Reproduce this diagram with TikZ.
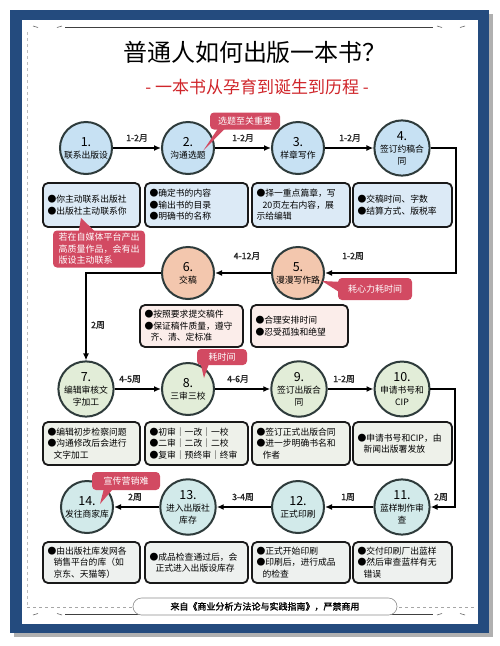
\documentclass[tikz,border=0pt]{standalone}
\usepackage{fontspec}
\setmainfont{Noto Sans CJK SC}
\newfontfamily\boldcjk[FakeBold=1.6]{Noto Sans CJK SC}
\usetikzlibrary{arrows.meta,calc}
\definecolor{frameblue}{HTML}{244B7E}
\definecolor{shadowgray}{HTML}{B0B0B0}
\definecolor{cblue}{HTML}{C7E1F3}
\definecolor{bblue}{HTML}{DCEAF6}
\definecolor{cpeach}{HTML}{F3C7AE}
\definecolor{bpink}{HTML}{FBEDEA}
\definecolor{cgreen}{HTML}{E2EDD8}
\definecolor{bgreen}{HTML}{EEF1EA}
\definecolor{ccyan}{HTML}{D2EAEA}
\definecolor{bgray}{HTML}{EEF1EF}
\definecolor{callred}{HTML}{D24A62}
\definecolor{subred}{HTML}{D0262B}
\definecolor{cedge}{HTML}{2E3B3B}
\tikzset{
  circ/.style={circle,draw=cedge,line width=2pt,minimum size=52pt,inner sep=0pt,align=center,font=\fontsize{8.8}{12}\selectfont},
  boxx/.style={draw=black!90,line width=1.8pt,rounded corners=5pt,align=left,inner xsep=4pt,inner ysep=2pt,font=\fontsize{8.8}{11.5}\selectfont},
  callout/.style={fill=callred,text=white,rounded corners=4pt,align=center,inner sep=2pt,font=\fontsize{9}{11.5}\selectfont},
  arr/.style={line width=1.8pt,-{Latex[length=7pt,width=6pt]},draw=black},
  lbl/.style={font=\boldcjk\fontsize{8.8}{10}\selectfont,inner sep=0pt,text=black!85}
}
\newcommand{\nm}[1]{{\fontsize{12.5}{13}\selectfont #1}}
\begin{document}
\begin{tikzpicture}[x=1pt,y=-1pt]
\useasboundingbox (0,0) rectangle (500,646);
\fill[white] (0,0) rectangle (500,646);
% frame
\fill[shadowgray] (14,14) rectangle (493,637);
\fill[frameblue] (10,10) rectangle (489,633);
\fill[white] (22,20) rectangle (478,624);
\draw[black!75,line width=0.8pt] (65,27) -- (433,27);
\draw[black!75,line width=0.8pt] (65,614) -- (433,614);
\draw[black!60,line width=0.6pt] (33,26) -- (38,27.5);
\draw[black!60,line width=0.6pt] (57,27.5) -- (62,26);
\draw[black!60,line width=0.6pt] (437,26) -- (442,27.5);
\draw[black!60,line width=0.6pt] (460,27.5) -- (465,26);
\draw[black!60,line width=0.6pt] (33,615) -- (38,613.5);
\draw[black!60,line width=0.6pt] (57,613.5) -- (62,615);
\draw[black!60,line width=0.6pt] (437,615) -- (442,613.5);
\draw[black!60,line width=0.6pt] (460,613.5) -- (465,615);
\draw[black!25,line width=0.5pt,dashed] (27,32) -- (27,607);
\draw[black!35,line width=0.5pt,dashed] (27,607) -- (475,607);
% titles
\node (title) at (255,52) {\fontsize{24}{26}\selectfont 普通人如何出版一本书？};
\node[text=subred] (subtitle) at (257,87) {\fontsize{17}{19}\selectfont - 一本书从孕育到诞生到历程 -};
% circles
\node[circ,fill=cblue] (c1) at (86,148) {\nm{1.}\\联系出版设};
\node[circ,fill=cblue] (c2) at (188,148) {\nm{2.}\\沟通选题};
\node[circ,fill=cblue] (c3) at (298,148) {\nm{3.}\\样章写作};
\node[circ,fill=cblue] (c4) at (402,148) {\nm{4.}\\签订约稿合\\同};
\node[circ,fill=cpeach] (c5) at (298,273) {\nm{5.}\\漫漫写作路};
\node[circ,fill=cpeach] (c6) at (188,273) {\nm{6.}\\交稿};
\node[circ,fill=cgreen] (c7) at (86,389) {\nm{7.}\\编辑审核文\\字加工};
\node[circ,fill=cgreen] (c8) at (188,389) {\nm{8.}\\三审三校};
\node[circ,fill=cgreen] (c9) at (299,389) {\nm{9.}\\签订出版合\\同};
\node[circ,fill=cgreen] (c10) at (402,389) {\nm{10.}\\申请书号和\\CIP};
\node[circ,fill=ccyan] (c11) at (402,507) {\nm{11.}\\蓝样制作审\\查};
\node[circ,fill=ccyan] (c12) at (298,507) {\nm{12.}\\正式印刷};
\node[circ,fill=ccyan] (c13) at (188,507) {\nm{13.}\\进入出版社\\库存};
\node[circ,fill=ccyan] (c14) at (87,507) {\nm{14.}\\发往商家库};
% bend coordinates
\coordinate (r1) at (456,210);
\coordinate (r2) at (455,450);
% connectors
\draw[arr] (c1) -- (c2);
\draw[arr] (c2) -- (c3);
\draw[arr] (c3) -- (c4);
\draw[arr] (c4.east) -| (r1) |- (c5.east);
\draw[arr] (c5) -- (c6);
\draw[arr] (c6.west) -| (c7.north);
\draw[arr] (c7) -- (c8);
\draw[arr] (c8) -- (c9);
\draw[arr] (c9) -- (c10);
\draw[arr] (c10.east) -| (r2) |- (c11.east);
\draw[arr] (c11) -- (c12);
\draw[arr] (c12) -- (c13);
\draw[arr] (c13) -- (c14);
% labels
\node[lbl] (l12) at (137,138) {1-2月};
\node[lbl] (l23) at (243,138) {1-2月};
\node[lbl] (l34) at (350,138) {1-2月};
\node[lbl] (l45) at (353,256) {1-2周};
\node[lbl] (l56) at (247,256) {4-12月};
\node[lbl] (l67) at (98,325) {2周};
\node[lbl] (l78) at (130,379) {4-5周};
\node[lbl] (l89) at (238,379) {4-6月};
\node[lbl] (l910) at (344,379) {1-2周};
\node[lbl] (l1011) at (441,497) {2周};
\node[lbl] (l1112) at (348,497) {1周};
\node[lbl] (l1213) at (243,497) {3-4周};
\node[lbl] (l1314) at (135,497) {2周};
% row 1 boxes
\node[boxx,fill=bblue,minimum width=97pt,minimum height=44pt,text width=88pt] (b1) at (91.5,205) {●你主动联系出版社\\●出版社主动联系你};
\node[boxx,fill=bblue,minimum width=103pt,minimum height=44pt,text width=94pt] (b2) at (196.5,205) {●确定书的内容\\●输出书的目录\\●明确书的名称};
\node[boxx,fill=bblue,minimum width=98pt,minimum height=44pt,text width=89pt] (b3) at (301,205) {●择一重点篇章，写\\\hspace*{6pt}20页左右内容，展\\示给编辑};
\node[boxx,fill=bblue,minimum width=99pt,minimum height=44pt,text width=90pt] (b4) at (402.5,205) {●交稿时间、字数\\●结算方式、版税率};
% row 2 boxes
\node[boxx,fill=bpink,minimum width=103pt,minimum height=42pt,text width=94pt] (b6) at (191.5,326) {●按照要求提交稿件\\●保证稿件质量，遵守\\\hspace*{6pt}齐、清、定标准};
\node[boxx,fill=bpink,minimum width=97pt,minimum height=42pt,text width=88pt] (b5) at (299.5,326) {●合理安排时间\\●忍受孤独和绝望};
% row 3 boxes
\node[boxx,fill=bgreen,minimum width=97pt,minimum height=43pt,text width=88pt] (b7) at (91.5,443.5) {●编辑初步检察问题\\●沟通修改后会进行\\\hspace*{6pt}文字加工};
\node[boxx,fill=bgreen,minimum width=103pt,minimum height=43pt,text width=94pt] (b8) at (196.5,443.5) {●初审｜一改｜一校\\●二审｜二改｜二校\\●复审｜预终审｜终审};
\node[boxx,fill=bgreen,minimum width=98pt,minimum height=43pt,text width=89pt] (b9) at (301,443.5) {●签订正式出版合同\\●进一步明确书名和\\\hspace*{6pt}作者};
\node[boxx,fill=bgreen,minimum width=99pt,minimum height=43pt,text width=90pt] (b10) at (402.5,443.5) {●申请书号和CIP，由\\\hspace*{6pt}新闻出版署发放};
% row 4 boxes
\node[boxx,fill=bgray,minimum width=97pt,minimum height=41pt,text width=88pt] (b14) at (91.5,562.5) {●由出版社库发网各\\\hspace*{6pt}销售平台的库（如\\\hspace*{6pt}京东、天猫等）};
\node[boxx,fill=bgray,minimum width=103pt,minimum height=41pt,text width=94pt] (b13) at (196.5,562.5) {●成品检查通过后，会\\\hspace*{6pt}正式进入出版设库存};
\node[boxx,fill=bgray,minimum width=98pt,minimum height=41pt,text width=89pt] (b12) at (301,562.5) {●正式开始印刷\\●印刷后，进行成品\\\hspace*{6pt}的检查};
\node[boxx,fill=bgray,minimum width=99pt,minimum height=41pt,text width=90pt] (b11) at (402.5,562.5) {●交付印刷厂出蓝样\\●然后审查蓝样有无\\\hspace*{6pt}错误};
% callouts
\coordinate (t1) at (203,151);
\coordinate (t2) at (81,218);
\coordinate (t3) at (322,281);
\coordinate (t4) at (204,378);
\coordinate (t5) at (100,504);
\node[callout,minimum width=70pt,minimum height=17pt] (k1) at (245,121) {选题至关重要};
\fill[callred] ($(k1.south west)+(8,-1)$) -- (t1) -- ($(k1.south west)+(15,-1)$) -- cycle;
\node[callout,minimum width=92pt,minimum height=37pt,align=left] (k2) at (99,249) {若在自媒体平台产出\\高质量作品，会有出\\版设主动联系};
\fill[callred] ($(k2.north west)+(26,1)$) -- (t2) -- ($(k2.north west)+(42,1)$) -- cycle;
\node[callout,minimum width=74pt,minimum height=22pt] (k3) at (375,289) {耗心力耗时间};
\fill[callred] ($(k3.north west)+(1,4)$) -- (t3) -- ($(k3.north west)+(1,14)$) -- cycle;
\node[callout,minimum width=50pt,minimum height=16pt] (k4) at (222,357) {耗时间};
\fill[callred] ($(k4.south west)+(4,-1)$) -- (t4) -- ($(k4.south west)+(12,-1)$) -- cycle;
\node[callout,minimum width=68pt,minimum height=18pt] (k5) at (126,481) {宣传营销难};
\fill[callred] ($(k5.south west)+(12,-1)$) -- (t5) -- ($(k5.south west)+(21,-1)$) -- cycle;
% footer
\node[draw=black!45,line width=0.6pt,fill=white,rounded corners=8.5pt,minimum width=264pt,minimum height=17pt,inner sep=0pt,font=\boldcjk\fontsize{9}{10}\selectfont] (foot) at (265,606.5) {来自《商业分析方法论与实践指南》，严禁商用};
\end{tikzpicture}
\end{document}
